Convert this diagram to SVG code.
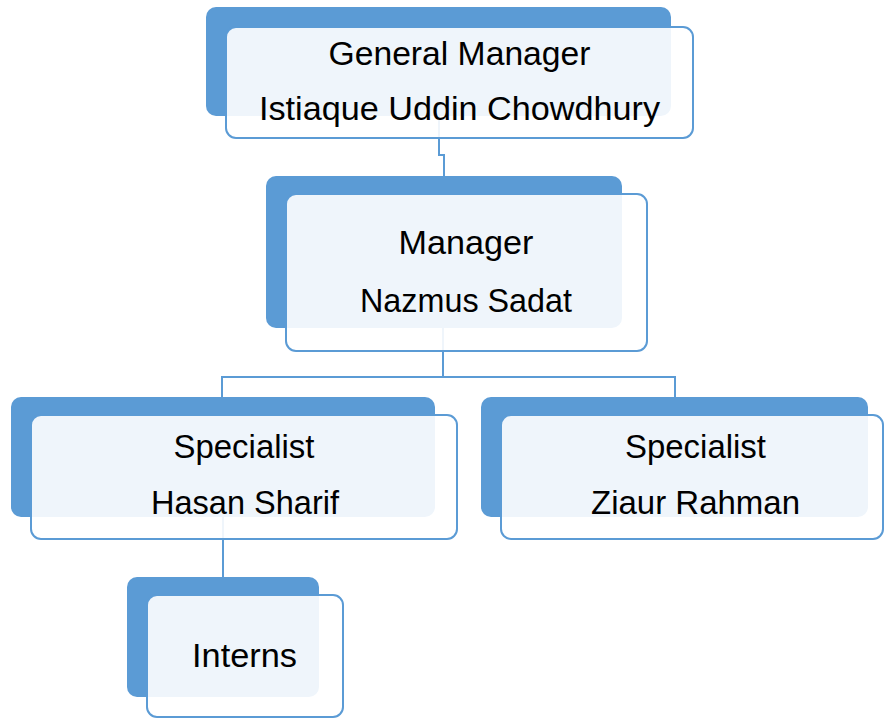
<svg xmlns="http://www.w3.org/2000/svg" width="885" height="718" viewBox="0 0 885 718">
<style>
.back{fill:#5B9BD5;}
.front{fill:#FFFFFF;fill-opacity:0.9;stroke:#5B9BD5;stroke-width:2;}
.conn{fill:none;stroke:#5B9BD5;stroke-width:2;}
.t{font-family:"Liberation Sans",Arial,sans-serif;font-size:33px;fill:#000000;text-anchor:middle;}
</style>
<rect width="885" height="718" fill="#FFFFFF"/>
<g id="connectors">
<path class="conn" d="M439,116 V155 H444 V176"/>
<path class="conn" d="M443,328 V377"/>
<path class="conn" d="M222,397 V377 H675 V397"/>
<path class="conn" d="M223,517 V577"/>
</g>
<g id="node-gm">
<rect class="back" x="206" y="7" width="465" height="109" rx="10"/>
<rect class="front" x="226" y="27" width="467" height="111" rx="10"/>
<text class="t" x="459.5" y="65" textLength="262" lengthAdjust="spacingAndGlyphs">General Manager</text>
<text class="t" x="459.5" y="120" textLength="401" lengthAdjust="spacingAndGlyphs">Istiaque Uddin Chowdhury</text>
</g>
<g id="node-manager">
<rect class="back" x="266" y="176" width="356" height="152" rx="10"/>
<rect class="front" x="286" y="194" width="361" height="157" rx="10"/>
<text class="t" x="466" y="254" textLength="135" lengthAdjust="spacingAndGlyphs">Manager</text>
<text class="t" x="466" y="312" textLength="212" lengthAdjust="spacingAndGlyphs">Nazmus Sadat</text>
</g>
<g id="node-hasan">
<rect class="back" x="11" y="397" width="424" height="120" rx="10"/>
<rect class="front" x="31" y="415" width="426" height="124" rx="10"/>
<text class="t" x="244" y="458" textLength="141" lengthAdjust="spacingAndGlyphs">Specialist</text>
<text class="t" x="245" y="514" textLength="188" lengthAdjust="spacingAndGlyphs">Hasan Sharif</text>
</g>
<g id="node-ziaur">
<rect class="back" x="481" y="397" width="387" height="120" rx="10"/>
<rect class="front" x="501" y="415" width="382" height="124" rx="10"/>
<text class="t" x="695.5" y="458" textLength="141" lengthAdjust="spacingAndGlyphs">Specialist</text>
<text class="t" x="695.5" y="514" textLength="209" lengthAdjust="spacingAndGlyphs">Ziaur Rahman</text>
</g>
<g id="node-interns">
<rect class="back" x="127" y="577" width="192" height="120" rx="10"/>
<rect class="front" x="147" y="595" width="196" height="122" rx="10"/>
<text class="t" x="244.5" y="667" textLength="105" lengthAdjust="spacingAndGlyphs">Interns</text>
</g>
</svg>
